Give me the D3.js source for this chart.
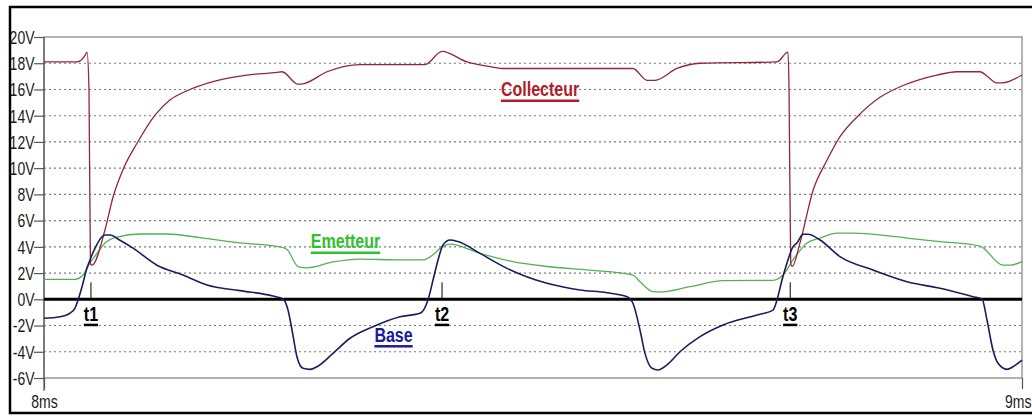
<!DOCTYPE html>
<html>
<head>
<meta charset="utf-8">
<script src="https://cdn.jsdelivr.net/npm/d3@7"></script>
<style>
  html, body { margin: 0; padding: 0; background: #fff; }
  svg { display: block; }
</style>
</head>
<body>
<svg id="chart" width="1032" height="416"></svg>
<script>
// ---- Data (time in ms, voltage in V) ----
const collecteurT = [8.0000, 8.0337, 8.0420, 8.0440, 8.0460, 8.0475, 8.0490, 8.0624, 8.0706, 8.0808, 8.0951, 8.1135, 8.1288, 8.1462, 8.1728, 8.2076, 8.2382, 8.2434, 8.2597, 8.2660, 8.2894, 8.3231, 8.3896, 8.4070, 8.4325, 8.4591, 8.4693, 8.6022, 8.6166, 8.6247, 8.6472, 8.6708, 8.7495, 8.7607, 8.7618, 8.7635, 8.7650, 8.7730, 8.7863, 8.8006, 8.8139, 8.8313, 8.8548, 8.8783, 8.9131, 8.9335, 8.9571, 8.9652, 8.9744, 8.9796, 9.0000];
const collecteurV = [18.1, 18.1, 18.6, 18.85, 16.0, 2.7, 2.6, 5.3, 7.8, 9.9, 11.9, 14.05, 15.2, 15.9, 16.6, 17.1, 17.3, 17.35, 16.4, 16.45, 17.35, 17.9, 17.9, 18.9, 18.1, 17.7, 17.6, 17.6, 16.7, 16.7, 17.6, 18.0, 18.1, 18.85, 16.0, 2.7, 2.5, 4.3, 8.3, 10.6, 12.4, 13.9, 15.4, 16.3, 17.1, 17.35, 17.35, 16.95, 16.5, 16.5, 17.1];

const emetteurT = [8.0000, 8.0317, 8.0399, 8.0470, 8.0542, 8.0624, 8.0746, 8.0982, 8.1258, 8.1595, 8.2004, 8.2413, 8.2485, 8.2597, 8.2689, 8.2955, 8.3231, 8.3640, 8.3875, 8.3978, 8.4070, 8.4151, 8.4458, 8.4796, 8.5143, 8.5583, 8.6022, 8.6094, 8.6227, 8.6299, 8.6605, 8.6943, 8.7454, 8.7556, 8.7658, 8.7802, 8.7935, 8.8108, 8.8272, 8.8824, 8.9162, 8.9571, 8.9806, 8.9877, 9.0000];
const emetteurV = [1.52, 1.52, 1.85, 2.77, 3.5, 4.3, 4.75, 4.98, 4.98, 4.7, 4.3, 4.0, 3.8, 2.5, 2.4, 2.85, 3.07, 3.0, 3.0, 3.4, 4.0, 4.2, 3.5, 2.87, 2.5, 2.23, 1.85, 1.34, 0.58, 0.56, 0.96, 1.42, 1.45, 1.85, 3.0, 4.3, 4.67, 5.05, 5.05, 4.67, 4.4, 4.06, 2.6, 2.6, 2.87];

const baseT = [8.0000, 8.0164, 8.0266, 8.0317, 8.0348, 8.0389, 8.0440, 8.0470, 8.0522, 8.0593, 8.0624, 8.0675, 8.0777, 8.0910, 8.1155, 8.1421, 8.1667, 8.2004, 8.2342, 8.2444, 8.2495, 8.2536, 8.2587, 8.2648, 8.2720, 8.2791, 8.2955, 8.3129, 8.3364, 8.3640, 8.3845, 8.3926, 8.3978, 8.4029, 8.4080, 8.4151, 8.4233, 8.4458, 8.4734, 8.5143, 8.5481, 8.5757, 8.5961, 8.6022, 8.6094, 8.6145, 8.6217, 8.6278, 8.6370, 8.6503, 8.6708, 8.6943, 8.7290, 8.7454, 8.7495, 8.7546, 8.7597, 8.7658, 8.7699, 8.7761, 8.7812, 8.7935, 8.8139, 8.8476, 8.8824, 8.9162, 8.9499, 8.9591, 8.9642, 8.9703, 8.9755, 8.9847, 8.9908, 9.0000];
const baseV = [-1.45, -1.33, -1.05, -0.67, -0.05, 0.96, 2.4, 3.0, 3.9, 4.77, 4.9, 4.9, 4.5, 3.9, 2.6, 1.85, 1.09, 0.66, 0.25, 0.02, -0.82, -2.34, -4.4, -5.26, -5.34, -5.14, -4.12, -2.97, -2.09, -1.33, -1.07, -0.05, 1.47, 3.0, 4.14, 4.52, 4.4, 3.5, 2.36, 1.22, 0.71, 0.5, 0.2, -0.3, -2.34, -4.12, -5.26, -5.39, -5.0, -4.0, -2.85, -1.96, -1.2, -0.82, -0.05, 1.47, 2.77, 4.0, 4.3, 4.96, 4.96, 4.52, 3.25, 2.23, 1.34, 0.84, 0.2, 0.02, -1.58, -3.87, -4.88, -5.34, -5.14, -4.63];

const yTicks = [-6, -4, -2, 0, 2, 4, 6, 8, 10, 12, 14, 16, 18, 20];
const xTicks = [8, 9];
const markerNames = ["t1", "t2", "t3"];
const markerTimes = [8.048, 8.407, 8.763];
const labelNames = ["Collecteur", "Emetteur", "Base"];
const labelT = [8.5072, 8.3083, 8.3574];
const labelV = [15.5, 3.91, -3.22];

// ---- Layout ----
const W = 1032, H = 416;
const margin = { left: 44, top: 37 };
const plotW = 978, plotH = 341;
const colors = { Collecteur: "#8e2a36", Emetteur: "#52b152", Base: "#1c1c5e" };
const labelColors = { Collecteur: "#b01e2c", Emetteur: "#2fc12f", Base: "#1c1c96" };
const FONT = "'Liberation Sans', Arial, sans-serif";
const SX = 0.8; // horizontal compression to mimic a narrow face

const svg = d3.select("#chart");
svg.append("rect").attr("width", W).attr("height", H).attr("fill", "#fff");

// outer frame
svg.append("rect").attr("x", 10).attr("y", 7).attr("width", W + 10).attr("height", 406)
  .attr("fill", "none").attr("stroke", "#000").attr("stroke-width", 2.5);

const x = d3.scaleLinear().domain([8, 9]).range([margin.left, margin.left + plotW]);
const y = d3.scaleLinear().domain([-6, 20]).range([margin.top + plotH, margin.top]);

// narrow text helper
function narrowText(parent, px, py, str, opts) {
  const g = parent.append("g").attr("transform", `translate(${px},${py}) scale(${SX},1)`);
  const t = g.append("text").attr("x", 0).attr("y", 0)
    .attr("text-anchor", opts.anchor || "middle")
    .attr("font-family", FONT).attr("font-size", opts.size)
    .attr("font-weight", opts.weight || "normal")
    .attr("fill", opts.fill || "#000").text(str);
  if (opts.dy) t.attr("dy", opts.dy);
  return { g, t };
}

// gridlines
svg.append("g").selectAll("line").data(yTicks.filter(v => v !== 0 && v !== -6 && v !== 20)).join("line")
  .attr("x1", x(8)).attr("x2", x(9))
  .attr("y1", d => y(d)).attr("y2", d => y(d))
  .attr("stroke", "#7a7a7a").attr("stroke-width", 1.1).attr("stroke-dasharray", "2,3");

// plot box
svg.append("rect").attr("x", x(8)).attr("y", y(20)).attr("width", plotW).attr("height", plotH)
  .attr("fill", "none").attr("stroke", "#808080").attr("stroke-width", 1.2);

// y axis
const yAxis = d3.axisLeft(y).tickValues(yTicks).tickSize(10).tickFormat(d => d + "V");
const gy = svg.append("g").attr("transform", `translate(${x(8)},0)`).call(yAxis);
gy.select(".domain").attr("stroke", "#555").attr("stroke-width", 1.2)
  .attr("d", `M0,${y(20)}V${y(-6) + 13}`);
gy.selectAll(".tick line").attr("stroke", "#555").attr("stroke-width", 1.2);
gy.selectAll(".tick text").remove();
gy.selectAll(".tick").each(function(d) {
  narrowText(d3.select(this), -9.5, 0, d + "V", { anchor: "end", size: 17.5, dy: "0.36em", fill: "#1a1a1a" });
});

// x axis
const xAxis = d3.axisBottom(x).tickValues(xTicks).tickSize(11).tickFormat(d => d + "ms");
const gx = svg.append("g").attr("transform", `translate(0,${y(-6)})`).call(xAxis);
gx.select(".domain").remove();
gx.selectAll(".tick line").attr("stroke", "#555").attr("stroke-width", 1.2);
gx.selectAll(".tick text").remove();
gx.selectAll(".tick").each(function(d, i) {
  const last = i === xTicks.length - 1;
  narrowText(d3.select(this), last ? 9 : 0, 29.5, d + "ms", { anchor: last ? "end" : "middle", size: 17.5, fill: "#1a1a1a" });
});

// zero line
svg.append("line").attr("x1", x(8)).attr("x2", x(9)).attr("y1", y(0)).attr("y2", y(0))
  .attr("stroke", "#000").attr("stroke-width", 3);

// series
const line = d3.line().x(d => x(d[0])).y(d => y(d[1])).curve(d3.curveMonotoneX);
const series = [
  { name: "Emetteur", t: emetteurT, v: emetteurV, w: 1.3 },
  { name: "Collecteur", t: collecteurT, v: collecteurV, w: 1.3 },
  { name: "Base", t: baseT, v: baseV, w: 1.6 }
];
series.forEach(s => {
  svg.append("path").datum(s.t.map((t, i) => [t, s.v[i]]))
    .attr("d", line).attr("fill", "none")
    .attr("stroke", colors[s.name]).attr("stroke-width", s.w)
    .attr("stroke-linejoin", "round");
});

// markers
markerTimes.forEach((t, i) => {
  svg.append("line").attr("x1", x(t)).attr("x2", x(t)).attr("y1", y(0)).attr("y2", y(0) - 17)
    .attr("stroke", "#000").attr("stroke-width", 1);
  const ly = y(-1.63);
  const { t: txt } = narrowText(svg, x(t), ly, markerNames[i], { size: 20, weight: "bold" });
  const w = txt.node().getComputedTextLength() * SX;
  svg.append("rect").attr("x", x(t) - w / 2).attr("y", ly + 3).attr("width", w).attr("height", 2.5).attr("fill", "#000");
});

// labels
labelNames.forEach((n, i) => {
  const lx = x(labelT[i]), ly = y(labelV[i]);
  const { t: txt } = narrowText(svg, lx, ly, n, { size: 20, weight: "bold", fill: labelColors[n] });
  const w = txt.node().getComputedTextLength() * SX;
  svg.append("rect").attr("x", lx - w / 2).attr("y", ly + 3.5).attr("width", w).attr("height", 2.5).attr("fill", labelColors[n]);
});
</script>
</body>
</html>
